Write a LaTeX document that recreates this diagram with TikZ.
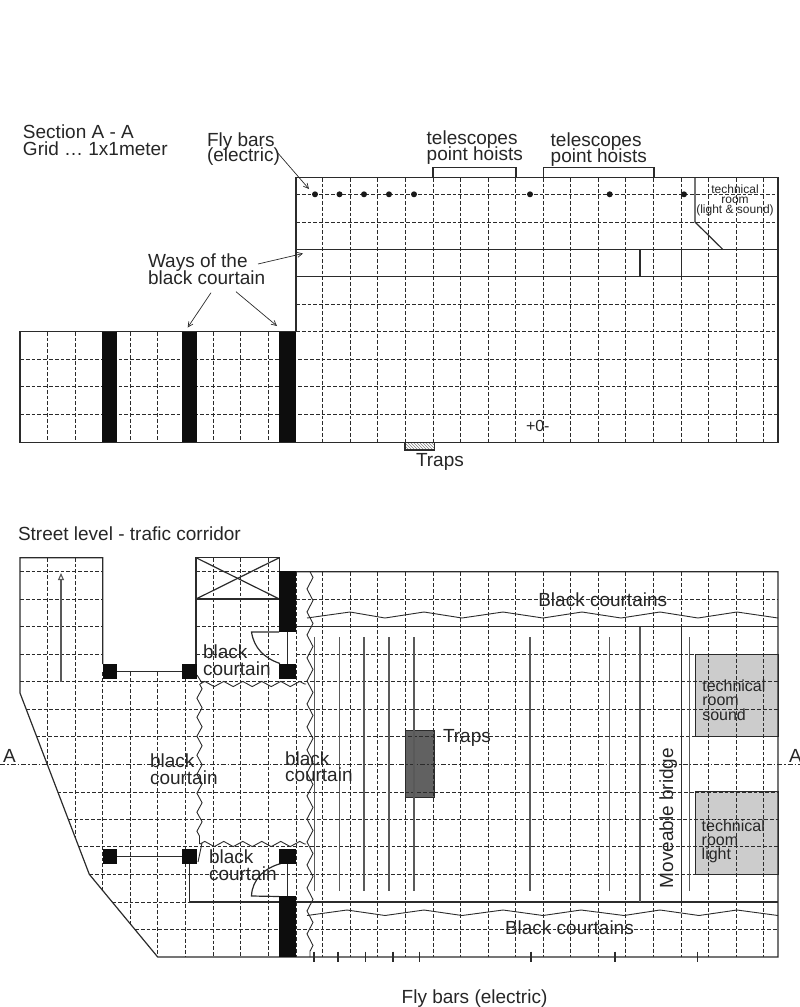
\documentclass[tikz,border=0pt]{standalone}
\usepackage{fontspec}
\setmainfont{Liberation Sans}
\usetikzlibrary{arrows.meta,calc,decorations.pathmorphing,patterns}
\AtBeginDocument{\normallineskiplimit=-20pt \lineskiplimit=-20pt}
\definecolor{ink}{gray}{0.17}
\tikzstyle{wall}=[draw=ink, line width=1.2pt]
\tikzstyle{gridline}=[draw=ink, line width=0.95pt, dash pattern=on 3.8pt off 2pt]
\tikzstyle{blackbar}=[draw=none, fill=black!95]
\tikzstyle{flyline}=[draw=black!65, line width=1.1pt]
\tikzstyle{leader}=[draw=ink, line width=0.7pt, -{Straight Barb[length=5pt,width=5pt]}]
\tikzstyle{curtain}=[draw=ink, line width=0.9pt, decorate, decoration={zigzag, amplitude=2.6pt, segment length=19pt}]
\tikzstyle{flybar}=[draw=none, fill=black!90, circle, inner sep=0pt, minimum size=6pt]
\tikzstyle{room}=[draw=ink, line width=0.9pt, fill=black!20]
\tikzset{%
    lbl/.style={inner sep=0pt, outer sep=0pt, anchor=base west, align=left, text=black!85, font=\fontsize{19}{16.4}\selectfont},
    lblsmall/.style={lbl, align=center, anchor=base, font=\fontsize{12}{10}\selectfont},
    lblroom/.style={lbl, font=\fontsize{16}{14.1}\selectfont},
  }
\newcommand{\gridx}{322.7,350.3,377.8,405.4,433,460.5,488.1,515.6,543.2,570.8,598.3,625.9,653.4,681,708.6,736.1,763.7}
\begin{document}
\begin{tikzpicture}[x=1pt, y=-1pt]
    \useasboundingbox (0,0) rectangle (800,1007);
    % section, grid
    \foreach \x in {47.3,75,102.7,130,157.7,185.3,213,240.3,268}
        \draw [gridline] (\x,331.7) -- (\x,442.3);
    \foreach \x in \gridx
        \draw [gridline] (\x,177.7) -- (\x,442.3);
    \foreach \y in {194.3,222,304.3,331.7}
        \draw [gridline] (296,\y) -- (778,\y);
    \foreach \y in {359.3,386.7,414.3}
        \draw [gridline] (20,\y) -- (778,\y);
    % section, outline
    \draw [wall] (20,331.7) -- (296,331.7) -- (296,177.7) -- (778,177.7) -- (778,442.3) -- (20,442.3) -- cycle;
    \draw [wall] (296,249.3) -- (778,249.3);
    \draw [wall] (296,276.7) -- (778,276.7);
    \draw [wall] (640,249.3) -- (640,276.7);
    \draw [wall] (681.3,249.3) -- (681.3,276.7);
    \draw [wall] (695,177.7) -- (695,222) -- (722.7,249.3);
    \draw [wall] (433,178) -- (433,167.7) -- (516,167.7) -- (516,178);
    \draw [wall] (543.3,178) -- (543.3,167.7) -- (654,167.7) -- (654,178);
    \draw [wall, pattern=north west lines, pattern color=black!50] (405,442.3) rectangle (434.7,450);
    \fill [blackbar] (102,331.7) rectangle (117,442.3);
    \fill [blackbar] (182,331.7) rectangle (197,442.3);
    \fill [blackbar] (278.7,331.7) rectangle (296,442.3);
    \foreach \x [count=\i] in {315,339.5,364,389,414,530,609.7,684}
        \node (fly\i) [flybar] at (\x,194.3) {};
    %
    \node (title) [lbl, font=\fontsize{19}{16.7}\selectfont] at (23,155) {Section A - A\\Grid … 1x1meter};
    \node (bars) [lbl, font=\fontsize{19}{15}\selectfont] at (207,161) {Fly bars\\(electric)};
    \node (tele1) [lbl] at (426.7,160.7) {telescopes\\point hoists};
    \node (tele2) [lbl] at (550.7,162.7) {telescopes\\point hoists};
    \node (techsec) [lblsmall] at (735,213) {technical\\room\\(light \& sound)};
    \node (ways) [lbl] at (148,284.3) {Ways of the\\black courtain};
    \node (traps1) [lbl] at (416,466.7) {Traps};
    \node (zero) [lbl, font=\fontsize{16}{16}\selectfont] at (526,431.7) {+0-};
    \coordinate (barsA) at (276.7,151.7);
    \coordinate (barsB) at (309,189);
    \coordinate (waysA) at (258,264);
    \coordinate (waysB) at (303,253.5);
    \coordinate (waysC) at (211,292.7);
    \coordinate (waysD) at (187.7,327.5);
    \coordinate (waysE) at (236,291.7);
    \coordinate (waysF) at (277,326);
    \draw [leader] (barsA) -- (barsB);
    \draw [leader] (waysA) -- (waysB);
    \draw [leader] (waysC) -- (waysD);
    \draw [leader] (waysE) -- (waysF);
    % street level, rooms under the grid
    \filldraw [room] (695,654) rectangle (778,736.7);
    \filldraw [room] (695,791.7) rectangle (778,874.3);
    \filldraw [room, fill=black!62] (405,730.7) rectangle (434,797.7);
    % street level, grid
    \draw [gridline] (47.3,557.7) -- (47.3,764.7);
    \draw [gridline] (75,557.7) -- (75,837);
    \draw [gridline] (102.7,672) -- (102.7,890.7);
    \draw [gridline] (130,672) -- (130,923.8);
    \foreach \x in {157.7,185.3}
        \draw [gridline] (\x,672) -- (\x,957);
    \foreach \x in {213,240.3,268}
        \draw [gridline] (\x,557.7) -- (\x,957);
    \draw [gridline] (296,571.7) -- (296,957);
    \foreach \x in \gridx
        \draw [gridline] (\x,571.7) -- (\x,957);
    \foreach \y in {571.7,626.7,654}
        \draw [gridline] (20,\y) -- (102.7,\y) (196,\y) -- (279,\y);
    \draw [gridline] (20,599) -- (102.7,599);
    \draw [gridline] (296,599) -- (778,599);
    \draw [gridline] (296,654) -- (778,654);
    \foreach \y/\x in {681.7/20,709.3/26.2,736.7/36.6,792/57.6,819.3/68,846.7/78.4,874.3/89.3,929.3/135}
        \draw [gridline] (\x,\y) -- (778,\y);
    \draw [gridline] (112.2,902) -- (190,902);
    \draw [gridline, dash pattern=on 5pt off 2pt on 1.5pt off 2pt] (0,764.7) -- (800,764.7);
    % street level, outline
    \draw [wall] (196,664) -- (196,557.7) -- (279.3,557.7) -- (279.3,572);
    \draw [wall] (196,599) -- (279.3,599);
    \draw [wall] (196,557.7) -- (279.3,599);
    \draw [wall] (196,599) -- (279.3,557.7);
    \draw [wall] (102.7,664) -- (102.7,557.7) -- (20,557.7) -- (20,693) -- (89.3,874.3) -- (157.7,957) -- (778,957) -- (778,571.7) -- (296,571.7);
    \draw [wall] (296,626.7) -- (778,626.7);
    \draw [wall] (189.5,864) -- (189.5,902) -- (778,902);
    \draw [wall] (117,671.7) -- (182,671.7);
    \draw [wall] (117,856.5) -- (182,856.5);
    \draw [wall] (287.7,632) -- (287.7,664);
    \draw [wall] (287.7,864) -- (287.7,896);
    \draw [wall] (279,632) -- (251.5,632) .. controls (254,648) and (264,658) .. (280,663.5);
    \draw [wall] (279,896.5) -- (251.5,896) .. controls (252,880) and (264,868) .. (281,863.5);
    \draw [flyline] (640,626.7) -- (640,902);
    \draw [wall] (681.3,626.7) -- (681.3,902);
    \foreach \x in {314.7,339.7,364,389,414,530,609.7,689.7}
        \draw [flyline] (\x,637) -- (\x,891);
    \foreach \x in {314,338,365.5,393,419.3,531,615,697.5}
        \draw [wall] (\x,951.7) -- (\x,962);
    \draw [flyline, -{Triangle[open,fill=white,length=7pt,width=6pt]}] (61,681.7) -- (61,573);
    % street level, black courtains
    \draw [curtain, decoration={segment length=23pt, amplitude=3pt}] (310,571.7) -- (310,957);
    \draw [curtain] (199.5,684) -- (199.5,844);
    \draw [curtain] (200,684) -- (306,684);
    \draw [curtain] (200,844) -- (306,844);
    \draw [wall, line width=0.9pt] (197,675) -- (202,683);
    \draw [wall, line width=0.9pt] (198,862) -- (202,843);
    \draw [wall, line width=0.9pt] (307,618) -- (350,612) -- (385,618) -- (424,612) -- (462,618) -- (503,612) -- (543,618) -- (582,612) -- (621,618) -- (660,612) -- (698,618) -- (737,612) -- (778,618);
    \draw [wall, line width=0.9pt] (307,915.5) -- (347,910) -- (385,915.5) -- (424,910) -- (462,915.5) -- (503,910) -- (543,915.5) -- (581,910) -- (624,915.5) -- (660,910) -- (699,915.5) -- (737,910) -- (778,915.5);
    % street level, black posts
    \fill [blackbar] (279,571) rectangle (296,632);
    \fill [blackbar] (279,896) rectangle (296,957);
    \fill [blackbar] (102.7,664.3) rectangle (116.7,679.3);
    \fill [blackbar] (181.7,664.3) rectangle (196.7,679.3);
    \fill [blackbar] (279,664.3) rectangle (296,679.3);
    \fill [blackbar] (102.7,849) rectangle (116.7,864);
    \fill [blackbar] (181.7,849) rectangle (196.7,864);
    \fill [blackbar] (279,849) rectangle (296,864);
    %
    \node (street) [lbl] at (18,540.7) {Street level - trafic corridor};
    \node (court1) [lbl] at (203,675) {black\\courtain};
    \node (court2) [lbl] at (150,784.3) {black\\courtain};
    \node (court3) [lbl] at (285,781.7) {black\\courtain};
    \node (court4) [lbl] at (209,880) {black\\courtain};
    \node (traps2) [lbl] at (443,742.7) {Traps};
    \node (black1) [lbl] at (538.3,606) {Black courtains};
    \node (black2) [lbl] at (505,934.3) {Black courtains};
    \node (sound) [lblroom] at (702.3,720) {technical\\room\\sound};
    \node (light) [lblroom] at (701.7,859.3) {technical\\room\\light};
    \node (bridge) [lbl, rotate=90] at (673,888.3) {Moveable bridge};
    \node (axisL) [lbl] at (3,762) {A};
    \node (axisR) [lbl] at (789,762) {A};
    \node (bars2) [lbl] at (401.7,1003.3) {Fly bars (electric)};
\end{tikzpicture}
\end{document}
